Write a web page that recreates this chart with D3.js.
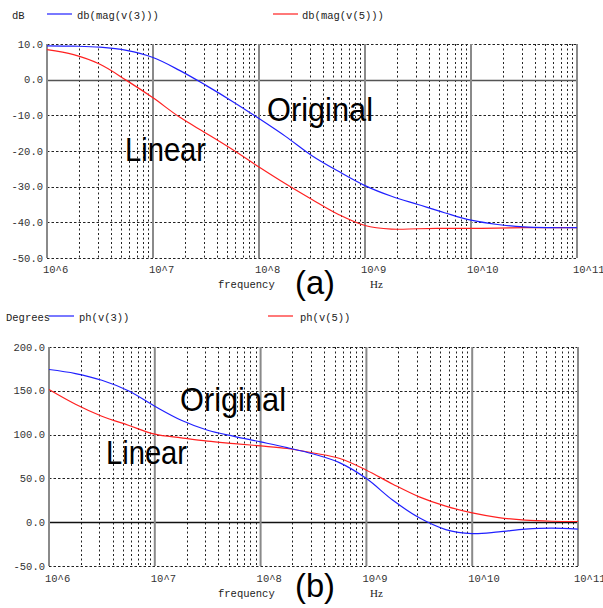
<!DOCTYPE html>
<html>
<head>
<meta charset="utf-8">
<script src="https://cdn.jsdelivr.net/npm/d3@7"></script>
<style>
body{margin:0;background:#fff;}
svg{display:block;}
</style>
</head>
<body>
<script>
const svg_width = 603, svg_height = 608;

// frequency points (Hz), quarter decades
const freq = [1e6,1.78e6,3.16e6,5.62e6,1e7,1.78e7,3.16e7,5.62e7,1e8,1.78e8,3.16e8,5.62e8,
	1e9,1.78e9,3.16e9,5.62e9,1e10,1.78e10,3.16e10,5.62e10,1e11];
// magnitude, dB
const magV3 = [9.5,9.4,9.1,8.2,6.2,2.6,-1.6,-6.1,-10.9,-15.9,-21.3,-25.7,-29.7,-32.7,-35.0,-37.3,-39.4,-40.6,-41.3,-41.5,-41.5];
const magV5 = [8.4,7.0,4.3,-0.2,-5.1,-10.5,-15.0,-19.6,-24.5,-29.2,-33.6,-37.8,-40.9,-41.9,-41.8,-41.7,-41.7,-41.6,-41.5,-41.5,-41.5];
// phase, degrees
const phV3 = [174.3,169.7,162,150,132.4,116.4,105,98,91.7,85.2,77.8,67.7,49.8,25,5,-8.4,-13,-11,-8,-6.8,-8];
const phV5 = [151.5,134.7,121,110.7,100.5,96.3,92.5,89.8,87.1,84.1,79,72.7,59.4,43.4,28.9,18.3,10.6,5.3,2.3,1.1,0.8];

const magTicks = [10,0,-10,-20,-30,-40,-50];
const phTicks = [200,150,100,50,0,-50];
const decadeLabels = ["10^6","10^7","10^8","10^9","10^10","10^11"];

var svgContainer = d3.select("body")
.append("svg")
.attr("width",svg_width)
.attr("height",svg_height);

drawPanel({
	left:47,right:577,top:44,bottom:258,
	yDomain:[-50,10],yTicks:magTicks,
	unit:"dB",unitX:12,legendY:15,
	series:[{name:"db(mag(v(5)))",vals:magV5,color:"#ff2020",lx:273,tx:302},
		{name:"db(mag(v(3)))",vals:magV3,color:"#2020ff",lx:47,tx:77}],
	zeroColor:"#555",
	xLabelY:273,axisTitleY:288,
	tag:"(a)",tagY:294,
	notes:[{text:"Original",x:267,y:121,w:106},{text:"Linear",x:125,y:161,w:81}]
});

drawPanel({
	left:49,right:578,top:347,bottom:566,
	yDomain:[-50,200],yTicks:phTicks,
	unit:"Degrees",unitX:6,legendY:317,
	series:[{name:"ph(v(5))",vals:phV5,color:"#ff2020",lx:268,tx:300},
		{name:"ph(v(3))",vals:phV3,color:"#2020ff",lx:49,tx:79}],
	zeroColor:"#111",
	xLabelY:582,axisTitleY:597,
	tag:"(b)",tagY:597,
	notes:[{text:"Original",x:180,y:411,w:106},{text:"Linear",x:106,y:464,w:81}]
});

function drawPanel(cfg){
	var g = svgContainer.append("g");
	var x = d3.scaleLog().domain([1e6,1e11]).range([cfg.left,cfg.right]);
	var y = d3.scaleLinear().domain(cfg.yDomain).range([cfg.bottom,cfg.top]);
	var mono = "'Liberation Mono','DejaVu Sans Mono',monospace";

	// minor vertical grid (2..9 each decade)
	var minor = [];
	for(var e = 6; e < 11; e++){
		for(var m = 2; m <= 9; m++) minor.push(m*Math.pow(10,e));
	}
	g.append("g").selectAll("line")
	.data(minor)
	.enter()
	.append("line")
	.attr("x1",function(d){return Math.round(x(d))+0.5})
	.attr("x2",function(d){return Math.round(x(d))+0.5})
	.attr("y1",cfg.top)
	.attr("y2",cfg.bottom)
	.attr("stroke","#222")
	.attr("stroke-width",1)
	.attr("stroke-dasharray","2,2.5");

	// horizontal grid
	g.append("g").selectAll("line")
	.data(cfg.yTicks.filter(function(d){return d !== 0}))
	.enter()
	.append("line")
	.attr("x1",cfg.left)
	.attr("x2",cfg.right)
	.attr("y1",function(d){return Math.round(y(d))+0.5})
	.attr("y2",function(d){return Math.round(y(d))+0.5})
	.attr("stroke","#222")
	.attr("stroke-width",1)
	.attr("stroke-dasharray","2.5,2");

	// zero line
	g.append("line")
	.attr("x1",cfg.left).attr("x2",cfg.right)
	.attr("y1",Math.round(y(0))+0.5).attr("y2",Math.round(y(0))+0.5)
	.attr("stroke",cfg.zeroColor)
	.attr("stroke-width",1.3);

	// decade lines (solid gray) + left axis
	var decades = [1e6,1e7,1e8,1e9,1e10,1e11];
	g.append("g").selectAll("line")
	.data(decades)
	.enter()
	.append("line")
	.attr("x1",function(d){return x(d)})
	.attr("x2",function(d){return x(d)})
	.attr("y1",cfg.top)
	.attr("y2",cfg.bottom)
	.attr("stroke","#8a8a8a")
	.attr("stroke-width",2);

	// y tick labels
	g.append("g").selectAll("text")
	.data(cfg.yTicks)
	.enter()
	.append("text")
	.attr("x",cfg.left-4)
	.attr("y",function(d){return y(d)+3.5})
	.attr("text-anchor","end")
	.style("font-family",mono)
	.style("font-size","10.5px")
	.style("fill","#333")
	.text(function(d){return d3.format(".1f")(d).replace("−","-")});

	// x tick labels
	g.append("g").selectAll("text")
	.data(decades)
	.enter()
	.append("text")
	.attr("x",function(d){return x(d)-4})
	.attr("y",cfg.xLabelY)
	.style("font-family",mono)
	.style("font-size","10.5px")
	.style("fill","#333")
	.text(function(d,i){return decadeLabels[i]});

	g.append("text")
	.attr("x",218).attr("y",cfg.axisTitleY)
	.style("font-family",mono).style("font-size","10.5px").style("fill","#222")
	.text("frequency");
	g.append("text")
	.attr("x",370).attr("y",cfg.axisTitleY)
	.style("font-family","'Liberation Serif',serif").style("font-size","11px").style("fill","#222")
	.text("Hz");
	g.append("text")
	.attr("x",295).attr("y",cfg.tagY)
	.attr("textLength",40).attr("lengthAdjust","spacingAndGlyphs")
	.style("font-family","'Liberation Sans',Arial,sans-serif").style("font-size","33px").style("fill","#000")
	.text(cfg.tag);

	// legend
	g.append("text")
	.attr("x",cfg.unitX).attr("y",cfg.legendY+4)
	.style("font-family",mono).style("font-size","10.5px").style("fill","#222")
	.text(cfg.unit);
	cfg.series.forEach(function(s){
		g.append("line")
		.attr("x1",s.lx).attr("x2",s.lx+25)
		.attr("y1",cfg.legendY-1).attr("y2",cfg.legendY-1)
		.attr("stroke",s.color).attr("stroke-width",1.2);
		g.append("text")
		.attr("x",s.tx).attr("y",cfg.legendY+4)
		.style("font-family",mono).style("font-size","10.5px").style("fill","#222")
		.text(s.name);
	});

	// curves
	var svgLineFunction = d3.line()
	.x(function(d,i){return x(freq[i])})
	.y(function(d){return y(d)})
	.curve(d3.curveCatmullRom.alpha(0.5));
	cfg.series.forEach(function(s){
		g.append("path")
		.attr("d",svgLineFunction(s.vals))
		.attr("fill","none")
		.attr("stroke",s.color)
		.attr("stroke-width",1.2);
	});

	// annotations
	cfg.notes.forEach(function(n){
		g.append("text")
		.attr("x",n.x).attr("y",n.y)
		.attr("textLength",n.w).attr("lengthAdjust","spacingAndGlyphs")
		.style("font-family","'Liberation Sans',Arial,sans-serif")
		.style("font-size","34px")
		.style("fill","#000")
		.text(n.text);
	});
}
</script>
</body>
</html>
